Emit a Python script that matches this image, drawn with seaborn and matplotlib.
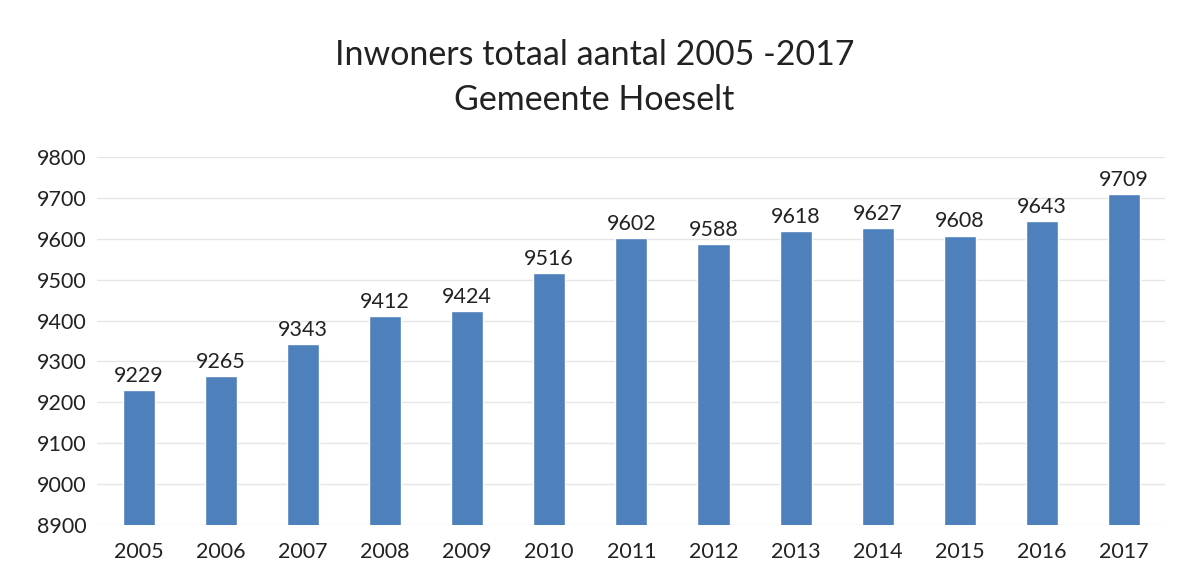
import matplotlib
matplotlib.use("Agg")
import matplotlib.pyplot as plt
import seaborn as sns
import pandas as pd

years = ["2005", "2006", "2007", "2008", "2009", "2010", "2011",
         "2012", "2013", "2014", "2015", "2016", "2017"]
inwoners = [9229, 9265, 9343, 9412, 9424, 9516, 9602,
            9588, 9618, 9627, 9608, 9643, 9709]
y_ticks = [8900, 9000, 9100, 9200, 9300, 9400, 9500, 9600, 9700, 9800]

df = pd.DataFrame({"jaar": years, "inwoners": inwoners})

sns.set_style("white")
plt.rcParams["font.family"] = ["Lato", "DejaVu Sans"]

fig = plt.figure(figsize=(11.89, 5.83), dpi=100)
ax = fig.add_axes([0.082, 0.0995, 0.898, 0.6312])

sns.barplot(data=df, x="jaar", y="inwoners", color="#4e80bc",
            width=0.39, ax=ax, saturation=1)

ax.set_ylim(8900, 9800)
ax.set_yticks(y_ticks)
ax.yaxis.grid(True, color="#e6e6e6", linewidth=1)
ax.set_axisbelow(True)
for s in ax.spines.values():
    s.set_visible(False)
ax.set_xlabel("")
ax.set_ylabel("")
ax.tick_params(axis="both", length=0, labelsize=15.5, colors="#222222")
ax.tick_params(axis="x", pad=12)
ax.tick_params(axis="y", pad=8)

for i, v in enumerate(inwoners):
    ax.text(i, v + 10, str(v), ha="center", va="bottom", fontsize=15.5,
            color="#222222")

fig.text(0.5, 0.906, "Inwoners totaal aantal 2005 -2017", ha="center",
         va="center", fontsize=24.5, color="#222222")
fig.text(0.5, 0.828, "Gemeente Hoeselt", ha="center", va="center",
         fontsize=24.5, color="#222222")

fig.savefig("out.png", dpi=100)
